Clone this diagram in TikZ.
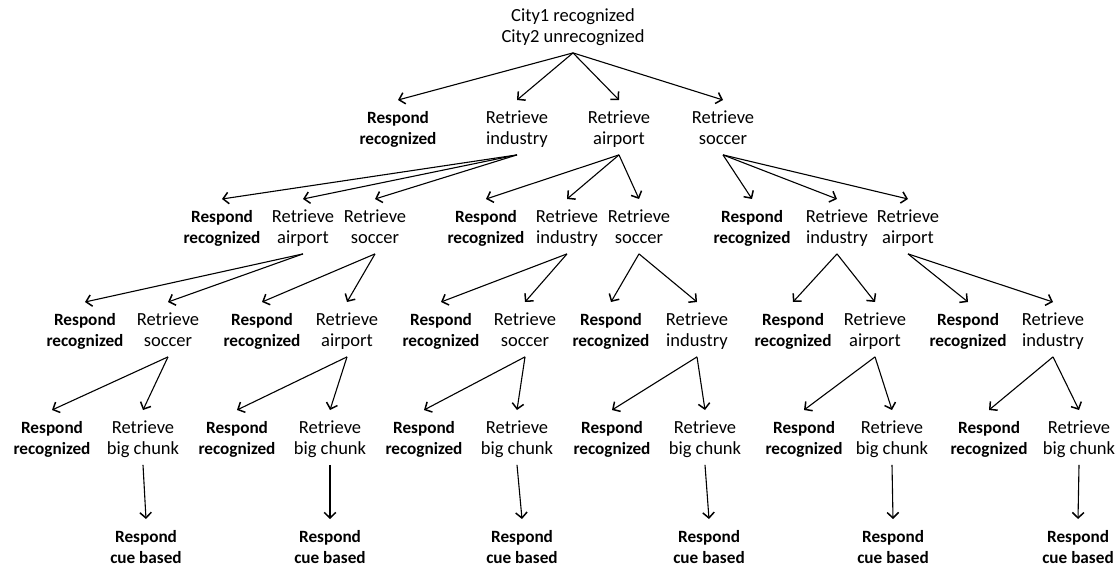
\documentclass[tikz,border=0pt]{standalone}
\usepackage{fontspec}
\setmainfont{Carlito}
\usetikzlibrary{arrows.meta}
\newcommand{\twol}[2]{\rule{0pt}{23pt}#1\\#2\rule[-10pt]{0pt}{10pt}}
\begin{document}
\begin{tikzpicture}[x=1pt,y=-1pt,
  lbl/.style={anchor=north, inner sep=0pt, align=center, font=\fontsize{18.5}{21.5}\selectfont},
  resp/.style={lbl, font=\fontsize{17.2}{21.5}\selectfont\bfseries},
  arr/.style={-{Straight Barb[length=5.5pt,width=11.5pt,line width=1.5pt]}, line width=1.1pt}]
\useasboundingbox (0,0) rectangle (1118,569);
% root
\node[lbl] (root) at (573,-2) {\twol{City1 recognized}{City2 unrecognized}};
% row 1
\node[resp] (a1) at (398,100) {\twol{Respond}{recognized}};
\node[lbl]  (a2) at (517,100) {\twol{Retrieve}{industry}};
\node[lbl]  (a3) at (619,100) {\twol{Retrieve}{airport}};
\node[lbl]  (a4) at (723,100) {\twol{Retrieve}{soccer}};
% row 2
\node[resp] (b1) at (222,199) {\twol{Respond}{recognized}};
\node[lbl]  (b2) at (303,199) {\twol{Retrieve}{airport}};
\node[lbl]  (b3) at (375,199) {\twol{Retrieve}{soccer}};
\node[resp] (b4) at (486,199) {\twol{Respond}{recognized}};
\node[lbl]  (b5) at (567,199) {\twol{Retrieve}{industry}};
\node[lbl]  (b6) at (639,199) {\twol{Retrieve}{soccer}};
\node[resp] (b7) at (752,199) {\twol{Respond}{recognized}};
\node[lbl]  (b8) at (837,199) {\twol{Retrieve}{industry}};
\node[lbl]  (b9) at (908,199) {\twol{Retrieve}{airport}};
% row 3
\node[resp] (c1)  at (85,302)   {\twol{Respond}{recognized}};
\node[lbl]  (c2)  at (168,302)  {\twol{Retrieve}{soccer}};
\node[resp] (c3)  at (262,302)  {\twol{Respond}{recognized}};
\node[lbl]  (c4)  at (347,302)  {\twol{Retrieve}{airport}};
\node[resp] (c5)  at (441,302)  {\twol{Respond}{recognized}};
\node[lbl]  (c6)  at (525,302)  {\twol{Retrieve}{soccer}};
\node[resp] (c7)  at (611,302)  {\twol{Respond}{recognized}};
\node[lbl]  (c8)  at (697,302)  {\twol{Retrieve}{industry}};
\node[resp] (c9)  at (793,302)  {\twol{Respond}{recognized}};
\node[lbl]  (c10) at (875,302)  {\twol{Retrieve}{airport}};
\node[resp] (c11) at (968,302)  {\twol{Respond}{recognized}};
\node[lbl]  (c12) at (1053,302) {\twol{Retrieve}{industry}};
% row 4
\node[resp] (d1)  at (52,410)   {\twol{Respond}{recognized}};
\node[lbl]  (d2)  at (143,410)  {\twol{Retrieve}{big chunk}};
\node[resp] (d3)  at (237,410)  {\twol{Respond}{recognized}};
\node[lbl]  (d4)  at (330,410)  {\twol{Retrieve}{big chunk}};
\node[resp] (d5)  at (424,410)  {\twol{Respond}{recognized}};
\node[lbl]  (d6)  at (517,410)  {\twol{Retrieve}{big chunk}};
\node[resp] (d7)  at (612,410)  {\twol{Respond}{recognized}};
\node[lbl]  (d8)  at (705,410)  {\twol{Retrieve}{big chunk}};
\node[resp] (d9)  at (804,410)  {\twol{Respond}{recognized}};
\node[lbl]  (d10) at (892,410)  {\twol{Retrieve}{big chunk}};
\node[resp] (d11) at (989,410)  {\twol{Respond}{recognized}};
\node[lbl]  (d12) at (1079,410) {\twol{Retrieve}{big chunk}};
% row 5
\node[resp] (e1) at (146,519)  {\twol{Respond}{cue based}};
\node[resp] (e2) at (330,519)  {\twol{Respond}{cue based}};
\node[resp] (e3) at (522,519)  {\twol{Respond}{cue based}};
\node[resp] (e4) at (709,519)  {\twol{Respond}{cue based}};
\node[resp] (e5) at (893,519)  {\twol{Respond}{cue based}};
\node[resp] (e6) at (1078,519) {\twol{Respond}{cue based}};
% connectors
\foreach \p/\c in {root/a1,root/a2,root/a3,root/a4,
  a2/b1,a2/b2,a2/b3,a3/b4,a3/b5,a3/b6,a4/b7,a4/b8,a4/b9,
  b2/c1,b2/c2,b3/c3,b3/c4,b5/c5,b5/c6,b6/c7,b6/c8,b8/c9,b8/c10,b9/c11,b9/c12,
  c2/d1,c2/d2,c4/d3,c4/d4,c6/d5,c6/d6,c8/d7,c8/d8,c10/d9,c10/d10,c12/d11,c12/d12,
  d2/e1,d4/e2,d6/e3,d8/e4,d10/e5,d12/e6}
  \draw[arr] (\p.south) -- (\c.north);
\end{tikzpicture}
\end{document}
